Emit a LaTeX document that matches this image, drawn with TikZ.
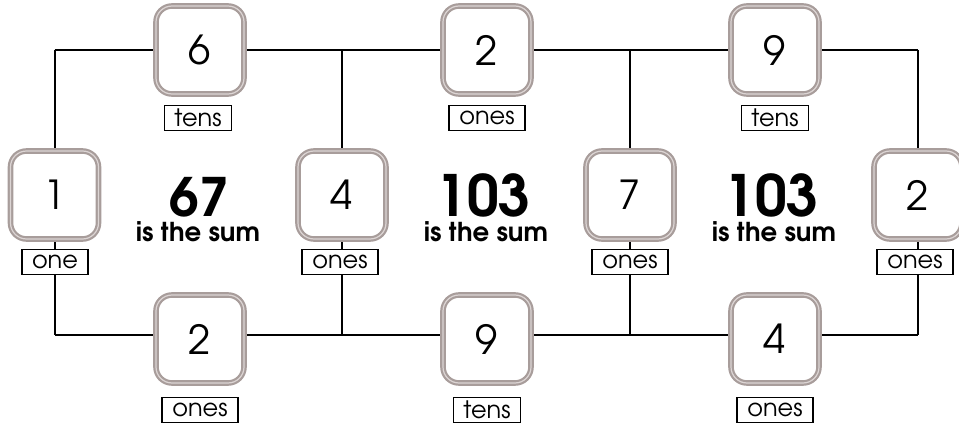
\documentclass[tikz,border=0pt]{standalone}
\usepackage{fontspec}
\usetikzlibrary{backgrounds}
\setmainfont{texgyreadventor}[Extension=.otf, UprightFont=*-regular, BoldFont=*-bold]
\definecolor{boxgray}{HTML}{A89D9B}
\definecolor{boxlight}{HTML}{DCD5D4}
\tikzset{
  numbox/.style={draw=boxgray, line width=2.2pt, double=boxlight, double distance=1.2pt,
    fill=white, rounded corners=16pt, minimum width=88pt, minimum height=88pt,
    inner sep=0pt, font=\fontsize{40}{40}\selectfont},
  tag/.style={draw=black, line width=1.8pt, fill=white, minimum height=25pt,
    inner xsep=10pt, inner ysep=0pt, font=\fontsize{24}{24}\selectfont},
  link/.style={draw=black, line width=2pt},
  sumnum/.style={anchor=base, inner sep=0pt, font=\bfseries\fontsize{#1}{#1}\selectfont},
  sumtxt/.style={anchor=base, inner sep=0pt, font=\bfseries\fontsize{26}{26}\selectfont}
}
\begin{document}
\begin{tikzpicture}[x=1pt,y=-1pt]
\useasboundingbox (0,0) rectangle (959,428);
% number boxes
\node[numbox] (t6) at (200,50) {6};
\node[numbox] (t2) at (487,50) {2};
\node[numbox] (t9) at (775,50) {9};
\node[numbox] (m1) at (54.5,195) {1};
\node[numbox] (m4) at (342,195) {4};
\node[numbox] (m7) at (630,195) {7};
\node[numbox] (m2) at (918,195) {2};
\node[numbox] (b2) at (200,339) {2};
\node[numbox] (b9) at (487,339) {9};
\node[numbox] (b4) at (775,339) {4};
% tags
\node[tag] (lt6) at (198,118) {tens};
\node[tag] (lt2) at (487,118) {ones};
\node[tag] (lt9) at (775,118) {tens};
\node[tag] (lm1) at (55,262) {one};
\node[tag] (lm4) at (340,262) {ones};
\node[tag] (lm7) at (630,262) {ones};
\node[tag] (lm2) at (915,262) {ones};
\node[tag] (lb2) at (200,410) {ones};
\node[tag] (lb9) at (487,410) {tens};
\node[tag] (lb4) at (775,410) {ones};
% sums
\node[sumnum=53] (s1) at (199,216) {67};
\node[sumnum=57] (s2) at (483,216) {103};
\node[sumnum=57] (s3) at (771,216) {103};
\node[sumtxt] (s1t) at (198,241) {is the sum};
\node[sumtxt] (s2t) at (486,241) {is the sum};
\node[sumtxt] (s3t) at (774,241) {is the sum};
% junctions
\coordinate (c1) at (54.5,50);
\coordinate (c2) at (342,50);
\coordinate (c3) at (630,50);
\coordinate (c4) at (918,50);
\coordinate (d1) at (54.5,335);
\coordinate (d2) at (342,335);
\coordinate (d3) at (630,335);
\coordinate (d4) at (918,335);
\begin{scope}[on background layer]
\draw[link] (c1) -- (t6) -- (t2) -- (t9) -- (c4);
\draw[link] (d1) -- (d1 -| b2.west);
\draw[link] (d2 -| b2.east) -- (d2 -| b9.west);
\draw[link] (d3 -| b9.east) -- (d3 -| b4.west);
\draw[link] (d4 -| b4.east) -- (d4);
\draw[link] (c1) -- (m1) -- (d1);
\draw[link] (c2) -- (m4) -- (d2);
\draw[link] (c3) -- (m7) -- (d3);
\draw[link] (c4) -- (m2) -- (d4);
\end{scope}
\end{tikzpicture}
\end{document}
